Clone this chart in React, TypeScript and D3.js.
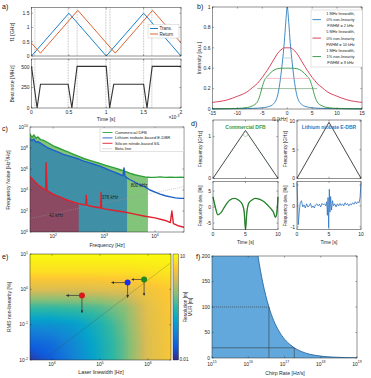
import React, { useMemo } from "react";
import * as d3 from "d3";

const FONT = "'Liberation Sans', Arial, Helvetica, sans-serif";
const INK = "#262626";

// a) transmitted / returned chirp and beat note
const chirpTime = [0, 0.5, 1, 1.5, 2];
const transFreq = [0, 1.5, 0, 1.5, 0];
const returnTime = [0, 0.12, 0.62, 1.12, 1.62, 2];
const returnFreq = [0.45, 0.1, 1.6, 0.1, 1.6, 0.46];
const beatTime = [0, 0.075, 0.12, 0.49, 0.54, 0.61, 1.0, 1.045, 1.1, 1.5, 1.545, 1.615, 2];
const beatFreq = [510, 0, 290, 290, 0, 510, 510, 0, 290, 290, 0, 510, 510];
const guideTimes = [0.045, 0.49, 0.61, 0.995, 1.05, 1.5, 1.61];

// b) beat note spectra
const offsetKHz = [-15, -12, -10, -8, -7, -6, -5.5, -5, -4.5, -4, -3, -2, -1.5, -1, -0.6, -0.3, 0,
  0.3, 0.6, 1, 1.5, 2, 3, 4, 4.5, 5, 5.5, 6, 7, 8, 10, 12, 15];
const blueSpec = [0.001, 0.002, 0.003, 0.005, 0.006, 0.008, 0.01, 0.012, 0.015, 0.02, 0.04, 0.12, 0.25, 0.45, 0.65, 0.85, 1,
  0.85, 0.65, 0.45, 0.25, 0.12, 0.04, 0.02, 0.015, 0.012, 0.01, 0.008, 0.006, 0.005, 0.003, 0.002, 0.001];
const redSpec = [0.065, 0.09, 0.125, 0.17, 0.21, 0.25, 0.28, 0.31, 0.345, 0.38, 0.46, 0.54, 0.57, 0.59, 0.6, 0.6, 0.6,
  0.6, 0.6, 0.59, 0.57, 0.54, 0.46, 0.38, 0.345, 0.31, 0.28, 0.25, 0.21, 0.17, 0.125, 0.09, 0.065];
const greenSpec = [0.002, 0.004, 0.006, 0.015, 0.03, 0.07, 0.13, 0.22, 0.29, 0.32, 0.37, 0.395, 0.398, 0.4, 0.4, 0.4, 0.4,
  0.4, 0.4, 0.4, 0.398, 0.395, 0.37, 0.32, 0.29, 0.22, 0.13, 0.07, 0.03, 0.015, 0.006, 0.004, 0.002];
const fwhmLevel = [0.5, 0.3, 0.2];
const fwhmFrom = [-0.9, -4.2, -6];
const fwhmTo = [0.9, 4.3, 6];
const specLegend = [
  "1 MHz linewidth,", "0% non-linearity", "FWHM = 2 kHz",
  "5 MHz linewidth,", "0% non-linearity", "FWHM = 10 kHz",
  "1 MHz linewidth,", "1% non-linearity", "FWHM = 9 kHz",
];

// c) frequency noise, [log10 f, log10 S]
const greenNoise: [number, number][] = [[1.544, 9.35], [1.58, 9.0], [1.62, 9.25], [1.66, 8.95], [1.7, 9.05], [1.75, 8.8],
  [1.8, 8.75], [1.9, 8.5], [2.0, 8.2], [2.1, 8.0], [2.2, 7.8], [2.3, 7.6], [2.4, 7.4], [2.5, 7.2], [2.6, 7.0], [2.7, 6.85],
  [2.8, 6.7], [2.9, 6.55], [3.0, 6.4], [3.1, 6.25], [3.2, 6.1], [3.3, 5.95], [3.4, 5.8], [3.5, 5.6], [3.6, 5.45],
  [3.7, 5.35], [3.8, 5.25], [3.86, 5.22], [3.9, 5.2], [4.0, 5.2], [4.1, 5.25], [4.2, 5.2], [4.3, 5.22], [4.4, 5.2],
  [4.5, 5.22], [4.568, 5.2]];
const blueNoise: [number, number][] = [[1.544, 8.9], [1.58, 8.7], [1.62, 8.85], [1.66, 8.55], [1.7, 8.6], [1.8, 8.3],
  [1.9, 8.0], [2.0, 7.8], [2.1, 7.6], [2.2, 7.4], [2.3, 7.25], [2.4, 7.1], [2.5, 6.95], [2.6, 6.75], [2.7, 6.6],
  [2.8, 6.45], [2.9, 6.3], [3.0, 6.1], [3.1, 5.9], [3.2, 5.7], [3.3, 5.5], [3.37, 5.35], [3.39, 6.1], [3.41, 5.3],
  [3.45, 5.15], [3.5, 5.0], [3.6, 4.75], [3.7, 4.5], [3.8, 4.3], [3.9, 4.0], [4.0, 3.8], [4.1, 3.6], [4.2, 3.45],
  [4.3, 3.35], [4.4, 3.25], [4.5, 3.2], [4.568, 3.2]];
const redNoise: [number, number][] = [[1.544, 5.3], [1.6, 5.0], [1.65, 4.75], [1.7, 4.5], [1.77, 4.25], [1.85, 4.0],
  [1.86, 6.6], [1.88, 3.95], [1.95, 3.75], [2.0, 3.6], [2.1, 3.4], [2.2, 3.2], [2.3, 3.0], [2.4, 2.85], [2.5, 2.7],
  [2.6, 2.6], [2.64, 2.58], [2.65, 3.5], [2.66, 2.56], [2.7, 2.5], [2.8, 2.4], [2.93, 2.28], [2.94, 3.8], [2.95, 2.27],
  [3.0, 2.2], [3.2, 2.05], [3.4, 1.9], [3.6, 1.7], [3.8, 1.5], [4.0, 1.35], [4.2, 1.1], [4.3, 0.9], [4.33, 2.0],
  [4.36, 0.8], [4.45, 0.6], [4.568, 0.45]];
const noiseCutoffExp = [3.86, 3.45, 2.5]; // green, blue, red
const betaFreq = [35, 37000];
const betaNoise = [19.7, 20800];
const noiseLegend = ["Commercial DFB", "Lithium niobate-based E-DBR", "Silicon nitride-based SIL", "Beta line"];
const bandLabels = ["800 kHz", "376 kHz", "42 kHz"];

// d) chirp linearity
const rampTime = [0, 5, 10];
const dfbRamp = [0, 1.15, 0];
const lnRamp = [0, 9.8, 0];
const dfbDevTime = [0, 0.3, 0.75, 1.2, 2, 2.6, 3.3, 3.9, 4.5, 4.8, 5.0, 5.2, 5.5, 6, 6.5, 7.2, 7.9, 8.5, 8.9, 9.3, 9.6, 9.8, 10];
const dfbDev = [3.2, 0.5, -2.4, -1.8, 0.8, 2.2, 2.7, 2.2, 0.9, -1.5, -7, -1.8, 1.2, 2.2, 2.7, 2.4, 1.6, 0.4, -0.5, -1.6, -3.2, -2, 3.2];
const lnDevTime = [0, 0.1, 0.2, 0.35, 0.5, 0.7, 0.9, 1.1, 1.3, 1.5, 1.7, 1.9, 2.1, 2.3, 2.5, 2.7, 2.9, 3.1, 3.3, 3.5, 3.7,
  3.9, 4.1, 4.3, 4.5, 4.65, 4.75, 4.85, 4.95, 5.05, 5.15, 5.25, 5.4, 5.55, 5.7, 5.9, 6.1, 6.3, 6.5, 6.7, 6.9, 7.1, 7.3,
  7.5, 7.7, 7.9, 8.1, 8.3, 8.5, 8.7, 8.9, 9.1, 9.3, 9.5, 9.7, 9.85, 10];
const lnDev = [1.1, 0.2, -0.9, -0.3, 0.15, 0.25, -0.05, 0.05, -0.1, 0.1, -0.05, 0, 0.12, -0.08, 0, -0.1, 0.05, 0.1, 0,
  0.08, -0.05, 0.12, 0.05, 0.1, 0, 0.2, -0.45, 0.4, -1.05, 0.8, -0.3, 0.45, -0.2, 0.25, 0, 0.1, -0.05, 0.1, 0, 0.12,
  0.02, 0.1, 0, 0.15, 0.05, 0.12, 0, 0.1, 0.05, 0.15, 0.08, 0.2, 0.1, 0.2, 0.15, 0.4, 1.1];

// e) resolution map: rows = non-linearity 10^1 .. 10^-2, cols = linewidth 10^3.5 .. 10^6.5, values log10(m)
const mapLinewidthExp = [3.5, 4, 4.5, 5, 5.5, 6, 6.5];
const mapNonlinExp = [1, 0.5, 0, -0.5, -1, -1.5, -2];
const resolutionLog = [
  [1.0, 1.0, 1.0, 1.0, 1.0, 1.0, 1.0],
  [0.79, 0.79, 0.79, 0.79, 0.79, 0.82, 0.85],
  [0.34, 0.34, 0.34, 0.37, 0.4, 0.52, 0.64],
  [-0.44, -0.44, -0.41, -0.32, -0.11, 0.4, 0.61],
  [-1.1, -1.07, -0.95, -0.65, -0.23, 0.37, 0.58],
  [-1.55, -1.43, -1.13, -0.74, -0.29, 0.34, 0.58],
  [-1.91, -1.61, -1.22, -0.77, -0.29, 0.34, 0.58],
];
const laserNames = ["SIL", "E-DBR", "DFB"];
const laserColors = ["#d7191c", "#1f2fe6", "#1f8a1f"];
const laserLinewidth = [42e3, 376e3, 830e3];
const laserNonlin = [0.67, 1.55, 1.9];
const targetLinewidth = [20e3, 175e3, 460e3];
const targetNonlin = [0.22, 0.59, 0.68];
const diagLinewidth = [6500, 2.9e6];
const diagNonlin = [0.01, 5.5];

// f) MUR vs chirp rate
const chirpRate = [1e16, 1.5e16, 1.86e16, 2.5e16, 3.72e16, 5e16, 7e16, 1e17, 1.5e17, 1.86e17, 3e17, 5e17, 1e18, 2e18, 5e18, 1e19];
const murValue = [372, 248, 200, 149, 100, 74, 53, 37, 25, 20, 12.4, 7.4, 3.7, 1.9, 0.74, 0.37];
const murMarks = [100, 20];
const murMarkRate = [3.72e16, 1.86e17];

const parulaStops = ["#352a87", "#0f5cdd", "#1481d6", "#06a4ca", "#2eb7a4", "#87bf77", "#d1bb59", "#fec832", "#f9fb0e"];
const parula = d3
  .scaleLinear<string>()
  .domain(parulaStops.map((_, i) => -2 + (3 * i) / (parulaStops.length - 1)))
  .range(parulaStops)
  .interpolate(d3.interpolateRgb)
  .clamp(true);

const pow = (e: string | number) => (
  <>
    10<tspan dy={-2.2} fontSize={3.5}>{e}</tspan>
  </>
);

type FrameProps = {
  xs: (v: number) => number;
  ys: (v: number) => number;
  x0: number; x1: number; y0: number; y1: number;
  xt: number[]; xl?: React.ReactNode[];
  yt: number[]; yl?: React.ReactNode[];
  xdy?: number;
};

// box with inward ticks, MATLAB style
function Frame({ xs, ys, x0, x1, y0, y1, xt, xl, yt, yl, xdy = 6 }: FrameProps) {
  return (
    <g fontFamily={FONT} fontSize={5} fill={INK}>
      {xt.map((v, i) => (
        <g key={"x" + i}>
          <line x1={xs(v)} x2={xs(v)} y1={y1} y2={y1 - 1.6} stroke={INK} strokeWidth={0.4} />
          <line x1={xs(v)} x2={xs(v)} y1={y0} y2={y0 + 1.6} stroke={INK} strokeWidth={0.4} />
          {xl && <text x={xs(v)} y={y1 + xdy} textAnchor="middle">{xl[i]}</text>}
        </g>
      ))}
      {yt.map((v, i) => (
        <g key={"y" + i}>
          <line x1={x0} x2={x0 + 1.6} y1={ys(v)} y2={ys(v)} stroke={INK} strokeWidth={0.4} />
          <line x1={x1} x2={x1 - 1.6} y1={ys(v)} y2={ys(v)} stroke={INK} strokeWidth={0.4} />
          {yl && <text x={x0 - 2} y={ys(v) + 1.8} textAnchor="end">{yl[i]}</text>}
        </g>
      ))}
      <rect x={x0} y={y0} width={x1 - x0} height={y1 - y0} fill="none" stroke={INK} strokeWidth={0.5} />
    </g>
  );
}

const Label = ({ x, y, text, rot = false, size = 5.2 }: { x: number; y: number; text: React.ReactNode; rot?: boolean; size?: number }) => (
  <text
    x={x} y={y} fontFamily={FONT} fontSize={size} fill={INK} textAnchor="middle"
    transform={rot ? `rotate(-90 ${x} ${y})` : undefined}
  >
    {text}
  </text>
);

export default function App() {
  // ---------- a
  const aX = d3.scaleLinear().domain([0, 2]).range([31.5, 181]);
  const aYt = d3.scaleLinear().domain([0, 1.7]).range([56, 7.5]);
  const aYb = d3.scaleLinear().domain([0, 600]).range([108, 59]);
  const lineA = (ys: d3.ScaleLinear<number, number>) =>
    d3.line<[number, number]>().x((d) => aX(d[0])).y((d) => ys(d[1]));
  const zip = (a: number[], b: number[]) => a.map((v, i) => [v, b[i]] as [number, number]);

  // ---------- b
  const bX = d3.scaleLinear().domain([-15, 15]).range([212.5, 362]);
  const bY = d3.scaleLinear().domain([0, 1]).range([109, 7]);
  const specLine = d3.line<[number, number]>().x((d) => bX(d[0])).y((d) => bY(d[1])).curve(d3.curveMonotoneX);

  // ---------- c
  const cX = d3.scaleLog().domain([35, 37000]).range([30, 184]);
  const cY = d3.scaleLog().domain([1, 1e10]).range([232, 127]);
  const noiseLine = d3.line<[number, number]>().x((d) => cX(10 ** d[0])).y((d) => cY(10 ** d[1]));
  const noiseArea = d3
    .area<[number, number]>()
    .x((d) => cX(10 ** d[0]))
    .y0(cY(1))
    .y1((d) => cY(10 ** d[1]));
  const noiseSets = [greenNoise, blueNoise, redNoise];
  const noiseColors = ["#2e9e3a", "#1f5fc8", "#e0202c"];
  const bandFills = ["#82c57a", "#3f8fa6", "#8c4a62"];

  // ---------- d
  const dXL = d3.scaleLinear().domain([0, 10]).range([213, 278]);
  const dXR = d3.scaleLinear().domain([0, 10]).range([297, 361]);
  const dTL = d3.scaleLinear().domain([0, 1.4]).range([178.3, 120]);
  const dTR = d3.scaleLinear().domain([0, 10.2]).range([178.3, 120]);
  const dBL = d3.scaleLinear().domain([-7, 8]).range([229.5, 181.5]);
  const dBR = d3.scaleLinear().domain([-1.13, 1.17]).range([229.5, 181.5]);
  const dLine = (xs: any, ys: any) => d3.line<[number, number]>().x((d) => xs(d[0])).y((d) => ys(d[1]));

  // ---------- e
  const eX = d3.scaleLog().domain([10 ** 3.54, 10 ** 6.48]).range([30, 171]);
  const eY = d3.scaleLog().domain([0.01, 10]).range([360, 254]);
  // smooth shading of the read grid: small cells coloured by bilinear lookup
  const heatCells = useMemo(() => {
    const colPos = d3.scaleLinear().domain([mapLinewidthExp[0], mapLinewidthExp[mapLinewidthExp.length - 1]])
      .range([0, mapLinewidthExp.length - 1]).clamp(true);
    const rowPos = d3.scaleLinear().domain([mapNonlinExp[0], mapNonlinExp[mapNonlinExp.length - 1]])
      .range([0, mapNonlinExp.length - 1]).clamp(true);
    const look = (lx: number, ly: number) => {
      const c = colPos(lx), r = rowPos(ly);
      const c0 = Math.min(Math.floor(c), mapLinewidthExp.length - 2), r0 = Math.min(Math.floor(r), mapNonlinExp.length - 2);
      const fc = c - c0, fr = r - r0;
      const top = resolutionLog[r0][c0] * (1 - fc) + resolutionLog[r0][c0 + 1] * fc;
      const bot = resolutionLog[r0 + 1][c0] * (1 - fc) + resolutionLog[r0 + 1][c0 + 1] * fc;
      return top * (1 - fr) + bot * fr;
    };
    const cells: { x: number; y: number; fill: string }[] = [];
    const step = 2;
    for (let px = 30; px < 171; px += step) {
      for (let py = 254; py < 360; py += step) {
        const lx = Math.log10(eX.invert(px + step / 2));
        const ly = Math.log10(eY.invert(py + step / 2));
        cells.push({ x: px, y: py, fill: parula(look(lx, ly)) });
      }
    }
    return cells;
  }, []);

  // ---------- f
  const fX = d3.scaleLog().domain([1e15, 1e19]).range([212, 357]);
  const fY = d3.scaleLinear().domain([0, 200]).range([358, 256]);
  const murPts = zip(chirpRate, murValue);
  const murLine = d3.line<[number, number]>().x((d) => fX(d[0])).y((d) => fY(d[1])).curve(d3.curveMonotoneX);
  const murArea = d3
    .area<[number, number]>()
    .x((d) => fX(d[0]))
    .y0(fY(0))
    .y1((d) => fY(d[1]))
    .curve(d3.curveMonotoneX);

  const greyDash = { stroke: "#555", strokeWidth: 0.4, strokeDasharray: "0.8,0.8" };

  return (
    <svg width={371} height={378} style={{ position: "absolute", left: 0, top: 0, background: "#fff" }}>
      <defs>
        <clipPath id="clipA1"><rect x={31.5} y={7.5} width={149.5} height={48.5} /></clipPath>
        <clipPath id="clipE"><rect x={30} y={254} width={141} height={106} /></clipPath>
        <clipPath id="clipF"><rect x={212} y={256} width={145} height={102} /></clipPath>
        <clipPath id="clipC"><rect x={30} y={127} width={154} height={105} /></clipPath>
        <linearGradient id="parulaBar" x1="0" y1="1" x2="0" y2="0">
          {parulaStops.map((c, i) => (
            <stop key={i} offset={i / (parulaStops.length - 1)} stopColor={c} />
          ))}
        </linearGradient>
        <marker id="arr" viewBox="0 0 6 6" refX={5} refY={3} markerWidth={4} markerHeight={4} orient="auto">
          <path d="M0,0L6,3L0,6Z" fill="#333" />
        </marker>
      </defs>

      {/* ================= a ================= */}
      <g>
        {guideTimes.map((t, i) => (
          <g key={i}>
            <line x1={aX(t)} x2={aX(t)} y1={7.5} y2={56} {...greyDash} />
            <line x1={aX(t)} x2={aX(t)} y1={59} y2={108} {...greyDash} />
          </g>
        ))}
        <g clipPath="url(#clipA1)">
          <path d={lineA(aYt)(zip(chirpTime, transFreq))!} fill="none" stroke="#0072BD" strokeWidth={0.9} />
          <path d={lineA(aYt)(zip(returnTime, returnFreq))!} fill="none" stroke="#D95319" strokeWidth={0.9} />
        </g>
        <path d={lineA(aYb)(zip(beatTime, beatFreq))!} fill="none" stroke="#333" strokeWidth={1.1} />
        <Frame xs={aX} ys={aYt} x0={31.5} x1={181} y0={7.5} y1={56} xt={[0, 0.5, 1, 1.5, 2]}
          yt={[0, 0.5, 1, 1.5]} yl={["0", "0.5", "1", "1.5"]} />
        <Frame xs={aX} ys={aYb} x0={31.5} x1={181} y0={59} y1={108} xt={[0, 0.5, 1, 1.5, 2]}
          xl={["0", "0.5", "1", "1.5", "2"]} yt={[0, 250, 500]} yl={["0", "250", "500"]} />
        <g fontFamily={FONT} fontSize={4.5} fill={INK}>
          <rect x={148} y={24.5} width={31} height={13.5} fill="#fff" stroke="#bbb" strokeWidth={0.4} />
          <line x1={150} x2={158} y1={28.5} y2={28.5} stroke="#0072BD" strokeWidth={0.9} />
          <text x={159.5} y={30.2}>Trans.</text>
          <line x1={150} x2={158} y1={34} y2={34} stroke="#D95319" strokeWidth={0.9} />
          <text x={159.5} y={35.7}>Return</text>
        </g>
        <Label x={14} y={32} text="f1 [GHz]" rot />
        <Label x={14} y={84} text="Beat note [MHz]" rot />
        <Label x={106} y={121} text="Time [s]" />
        <text x={174} y={118.5} fontFamily={FONT} fontSize={4.5} fill={INK} textAnchor="middle">
          ×10<tspan dy={-2} fontSize={3.4}>-3</tspan>
        </text>
        <text x={2} y={9} fontFamily={FONT} fontSize={7} fill="#111">a)</text>
      </g>

      {/* ================= b ================= */}
      <g>
        {[blueSpec, redSpec, greenSpec].map((s, i) => (
          <path key={i} d={specLine(zip(offsetKHz, s))!} fill="none"
            stroke={["#2a7fc0", "#d6304a", "#2e9640"][i]} strokeWidth={0.9} />
        ))}
        {fwhmLevel.map((lv, i) => (
          <line key={i} x1={bX(fwhmFrom[i])} x2={bX(fwhmTo[i])} y1={bY(lv)} y2={bY(lv)}
            stroke={["#8ab8dd", "#e8909c", "#5f8f66"][i]} strokeWidth={0.6} />
        ))}
        <Frame xs={bX} ys={bY} x0={212.5} x1={362} y0={7} y1={109} xt={[-15, -10, -5, 0, 5, 10, 15]}
          xl={["-15", "-10", "-5", "0", "5", "10", "15"]} yt={[0, 0.2, 0.4, 0.6, 0.8, 1]}
          yl={["0", "0.2", "0.4", "0.6", "0.8", "1"]} xdy={6.3} />
        <g fontFamily={FONT} fontSize={3.9} fill={INK}>
          <rect x={311} y={10} width={51.5} height={57} fill="#fff" stroke="#bbb" strokeWidth={0.4} />
          {specLegend.map((t, i) => (
            <g key={i}>
              {i % 3 === 1 && (
                <line x1={312.5} x2={321} y1={13.5 + i * 6.15} y2={13.5 + i * 6.15}
                  stroke={["#2a7fc0", "#d6304a", "#2e9640"][Math.floor(i / 3)]} strokeWidth={0.9} />
              )}
              <text x={340.5} y={15 + i * 6.15} textAnchor="middle">{t}</text>
            </g>
          ))}
        </g>
        <Label x={201} y={58} text="Intensity [a.u.]" rot />
        <Label x={280} y={121.4} text="f1 [kHz]" size={4.5} />
        <text x={197} y={9} fontFamily={FONT} fontSize={7} fill="#111">b)</text>
      </g>

      {/* ================= c ================= */}
      <g>
        <g clipPath="url(#clipC)">
          {noiseSets.map((s, i) => (
            <path key={"a" + i} d={noiseArea(s.filter((p) => p[0] <= noiseCutoffExp[i] + 1e-9))!} fill={bandFills[i]} />
          ))}
          <path d={d3.line<number>().x((_, i) => cX(betaFreq[i])).y((v) => cY(v))(betaNoise)!}
            fill="none" stroke="#999" strokeWidth={0.45} strokeDasharray="1,1" />
          {noiseSets.map((s, i) => (
            <path key={"l" + i} d={noiseLine(s)!} fill="none" stroke={noiseColors[i]} strokeWidth={1.4}
              strokeLinejoin="round" />
          ))}
        </g>
        <g fontFamily={FONT} fontSize={4.5} fill="#222" textAnchor="middle">
          <text x={139} y={187}>{bandLabels[0]}</text>
          <text x={110} y={199}>{bandLabels[1]}</text>
          <text x={56} y={217}>{bandLabels[2]}</text>
        </g>
        <Frame xs={cX} ys={cY} x0={30} x1={184} y0={127} y1={232} xt={[1e2, 1e3, 1e4]}
          xl={[pow(2), pow(3), pow(4)]} yt={[1, 1e2, 1e4, 1e6, 1e8, 1e10]}
          yl={[pow(0), pow(2), pow(4), pow(6), pow(8), pow(10)]} />
        <g fontFamily={FONT} fontSize={4.2} fill={INK}>
          <rect x={100} y={128} width={83.5} height={23.5} fill="#fff" stroke="#bbb" strokeWidth={0.4} />
          {noiseLegend.map((t, i) => (
            <g key={i}>
              <line x1={102.5} x2={112.5} y1={132.5 + i * 5.4} y2={132.5 + i * 5.4}
                stroke={i < 3 ? noiseColors[i] : "#777"} strokeWidth={i < 3 ? 0.9 : 0.5}
                strokeDasharray={i < 3 ? undefined : "1,1"} />
              <text x={115} y={134 + i * 5.4}>{t}</text>
            </g>
          ))}
        </g>
        <Label x={10} y={180} text={<>Frequency Noise [Hz<tspan dy={-1.8} fontSize={3.5}>2</tspan><tspan dy={1.8}>/Hz]</tspan></>} rot />
        <Label x={107} y={247} text="Frequency [Hz]" />
        <text x={2} y={131} fontFamily={FONT} fontSize={7} fill="#111">c)</text>
      </g>

      {/* ================= d ================= */}
      <g>
        <path d={dLine(dXL, dTL)(zip(rampTime, dfbRamp))!} fill="none" stroke="#2b3b2b" strokeWidth={0.9} />
        <circle cx={dXL(5)} cy={dTL(1.06)} r={2.3} fill="none" stroke="#999" strokeWidth={0.5} />
        <path d={dLine(dXR, dTR)(zip(rampTime, lnRamp))!} fill="none" stroke="#333" strokeWidth={0.9} />
        <path d={dLine(dXL, dBL).curve(d3.curveMonotoneX)(zip(dfbDevTime, dfbDev))!} fill="none" stroke="#2e9a35" strokeWidth={1.3} />
        <path d={dLine(dXL, dBL).curve(d3.curveMonotoneX)(zip(dfbDevTime, dfbDev))!} fill="none" stroke="#1d4d22" strokeWidth={0.4} />
        <path d={dLine(dXR, dBR)(zip(lnDevTime, lnDev))!} fill="none" stroke="#2b72c2" strokeWidth={0.8} />
        <Frame xs={dXL} ys={dTL} x0={213} x1={278} y0={120} y1={178.3} xt={[0, 5, 10]} yt={[0, 1]} yl={["0", "1"]} />
        <Frame xs={dXR} ys={dTR} x0={297} x1={361} y0={120} y1={178.3} xt={[0, 5, 10]} yt={[0, 5, 10]}
          yl={["0", "5", "10"]} />
        <Frame xs={dXL} ys={dBL} x0={213} x1={278} y0={181.5} y1={229.5} xt={[0, 5, 10]} xl={["0", "5", "10"]}
          yt={[-5, 0, 5]} yl={["-5", "0", "5"]} />
        <Frame xs={dXR} ys={dBR} x0={297} x1={361} y0={181.5} y1={229.5} xt={[0, 5, 10]} xl={["0", "5", "10"]}
          yt={[-1, 0, 1]} yl={["-1", "0", "1"]} />
        <text x={245.5} y={129} fontFamily={FONT} fontSize={5} fontWeight="bold" fill="#3a9a3a" textAnchor="middle">
          Commercial DFB
        </text>
        <text x={329} y={129} fontFamily={FONT} fontSize={5} fontWeight="bold" fill="#2b78c5" textAnchor="middle">
          Lithium niobate E-DBR
        </text>
        <Label x={202} y={149} text="Frequency [GHz]" rot size={4.8} />
        <Label x={287} y={149} text="Frequency [GHz]" rot size={4.8} />
        <Label x={202} y={206} text="Frequency dev. [%]" rot size={4.8} />
        <Label x={287} y={206} text="Frequency dev. [%]" rot size={4.8} />
        <Label x={245.5} y={243.5} text="Time [s]" size={4.8} />
        <Label x={329} y={243.5} text="Time [s]" size={4.8} />
        <text x={191} y={126} fontFamily={FONT} fontSize={7} fill="#111">d)</text>
      </g>

      {/* ================= e ================= */}
      <g>
        <g clipPath="url(#clipE)">
          {heatCells.map((c, i) => (
            <rect key={i} x={c.x} y={c.y} width={2.4} height={2.4} fill={c.fill} />
          ))}
          <line x1={eX(diagLinewidth[0])} x2={eX(diagLinewidth[1])} y1={eY(diagNonlin[0])} y2={eY(diagNonlin[1])}
            stroke="#444" strokeOpacity={0.55} strokeWidth={0.45} />
        </g>
        {laserNames.map((n, i) => (
          <g key={n}>
            <line x1={eX(laserLinewidth[i])} x2={eX(targetLinewidth[i])} y1={eY(laserNonlin[i])} y2={eY(laserNonlin[i])}
              stroke="#333" strokeWidth={0.7} markerEnd="url(#arr)" />
            <line x1={eX(laserLinewidth[i])} x2={eX(laserLinewidth[i])} y1={eY(laserNonlin[i])} y2={eY(targetNonlin[i])}
              stroke="#333" strokeWidth={0.7} markerEnd="url(#arr)" />
            <circle cx={eX(laserLinewidth[i])} cy={eY(laserNonlin[i])} r={3} fill={laserColors[i]} />
          </g>
        ))}
        <Frame xs={eX} ys={eY} x0={30} x1={171} y0={254} y1={360} xt={[1e4, 1e5, 1e6]}
          xl={[pow(4), pow(5), pow(6)]} yt={[0.01, 0.1, 1, 10]} yl={[pow(-2), pow(-1), pow(0), pow(1)]} />
        <rect x={173} y={254} width={5.5} height={106} fill="url(#parulaBar)" stroke={INK} strokeWidth={0.4} />
        <g fontFamily={FONT} fontSize={4.6} fill={INK}>
          <text x={180} y={257.5}>10</text>
          <text x={179.5} y={361}>0.01</text>
        </g>
        <Label x={186.5} y={307} text="Resolution [m]" rot size={4.8} />
        <Label x={11} y={307} text="RMS non-linearity [%]" rot />
        <Label x={101} y={374} text="Laser linewidth [Hz]" />
        <text x={2} y={259} fontFamily={FONT} fontSize={7} fill="#111">e)</text>
      </g>

      {/* ================= f ================= */}
      <g>
        <g clipPath="url(#clipF)">
          <path d={murArea([[1e15, 5000], ...murPts])!} fill="#62a8dc" />
          <path d={murLine(murPts)!} fill="none" stroke="#1a5e9a" strokeWidth={0.8} />
        </g>
        {murMarks.map((m, i) => (
          <g key={i}>
            <line x1={212} x2={fX(murMarkRate[i])} y1={fY(m)} y2={fY(m)} stroke="#333" strokeWidth={0.55}
              strokeDasharray={i === 0 ? "1.2,0.8" : undefined} />
            <line x1={fX(murMarkRate[i])} x2={fX(murMarkRate[i])} y1={fY(m)} y2={fY(0)} stroke="#333" strokeWidth={0.55} />
          </g>
        ))}
        <Frame xs={fX} ys={fY} x0={212} x1={357} y0={256} y1={358} xt={[1e15, 1e16, 1e17, 1e18, 1e19]}
          xl={[pow(15), pow(16), pow(17), pow(18), pow(19)]} yt={[0, 50, 100, 150, 200]}
          yl={["0", "50", "100", "150", "200"]} xdy={7.5} />
        <Label x={192} y={307} text="MUR [m]" rot size={4.8} />
        <Label x={285} y={374.5} text="Chirp Rate [Hz/s]" />
        <text x={196} y={259} fontFamily={FONT} fontSize={7} fill="#111">f)</text>
      </g>
    </svg>
  );
}
